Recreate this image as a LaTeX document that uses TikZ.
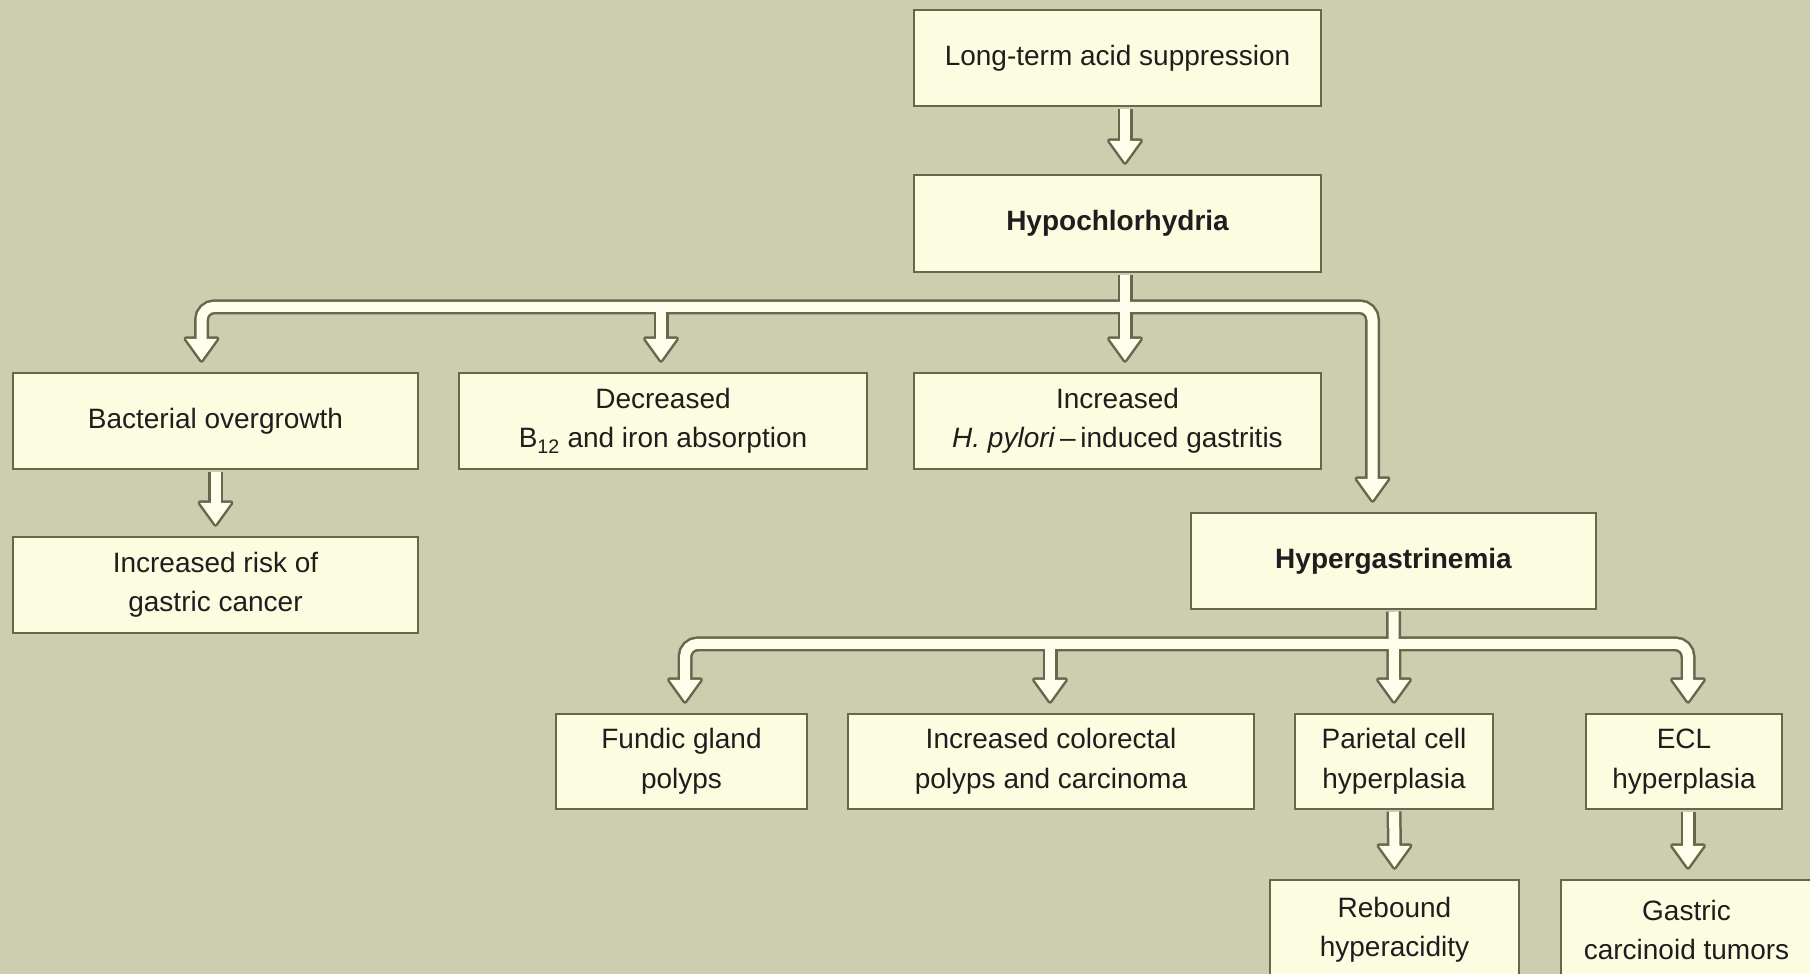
\documentclass[tikz,border=0pt]{standalone}
\usepackage{fontspec}
\setmainfont{Liberation Sans}
\usetikzlibrary{calc}
\definecolor{bg}{HTML}{CDCDAF}
\definecolor{boxfill}{HTML}{FCFCE1}
\definecolor{edge}{HTML}{67674B}
\definecolor{txt}{HTML}{1E1E1E}
\definecolor{arrowfill}{HTML}{FEFEEC}
\begin{document}
\begin{tikzpicture}[x=1pt,y=-1pt,
  box/.style={draw=edge, fill=boxfill, line width=2.5pt, inner sep=0pt, align=center, text=txt, font=\fontsize{28}{39.5}\selectfont},
  boldbox/.style={box, font=\fontsize{28}{39.5}\selectfont\bfseries},
  shaftout/.style={draw=edge, line width=15pt, rounded corners=13pt},
  shaftin/.style={draw=arrowfill, line width=10pt, rounded corners=13pt},
  headout/.pic={\filldraw[draw=edge, fill=edge, line width=5pt, line join=round] (-15.5,-21.5) -- (0,0) -- (15.5,-21.5) -- cycle;},
  headin/.pic={\fill[arrowfill] (-15.5,-21.5) -- (0,0) -- (15.5,-21.5) -- cycle;},
]
\fill[bg] (0,0) rectangle (1810,974);
\useasboundingbox (0,0) rectangle (1810,974);

% boxes
\node[box, minimum width=407pt, minimum height=96pt] (A) at (1117.5,58) {Long-term acid suppression};
\node[boldbox, minimum width=407pt, minimum height=97pt] (B) at (1117.5,223.5) {Hypochlorhydria};
\node[box, minimum width=405pt, minimum height=96pt] (bac) at (215.5,421) {Bacterial overgrowth};
\node[box, minimum width=408pt, minimum height=96pt] (dec) at (663,421) {Decreased\\B\textsubscript{12} and iron absorption};
\node[box, minimum width=407pt, minimum height=96pt] (hp) at (1117.5,421) {Increased\\\textit{H. pylori}\,–\,induced gastritis};
\node[box, minimum width=405pt, minimum height=96pt] (risk) at (215.5,585) {Increased risk of\\gastric cancer};
\node[boldbox, minimum width=405pt, minimum height=96pt] (hyg) at (1393.5,561) {Hypergastrinemia};
\node[box, minimum width=251pt, minimum height=95pt] (fun) at (681.5,761.5) {Fundic gland\\polyps};
\node[box, minimum width=406pt, minimum height=95pt] (col) at (1051,761.5) {Increased colorectal\\polyps and carcinoma};
\node[box, minimum width=198pt, minimum height=95pt] (par) at (1394,761.5) {Parietal cell\\hyperplasia};
\node[box, minimum width=196pt, minimum height=95pt] (ecl) at (1684,761.5) {ECL\\hyperplasia};
\node[box, minimum width=249pt, minimum height=100pt] (reb) at (1394.5,930) {Rebound\\hyperacidity};
\node[box, minimum width=251pt, minimum height=100pt] (gas) at (1686.5,930) {Gastric\\carcinoid tumors};

% connector points
\coordinate (sA) at ([xshift=7.5pt,yshift=-1.25pt]A.south);
\coordinate (sB) at ([xshift=7.5pt,yshift=-1.25pt]B.south);
\coordinate (j1) at ([xshift=7.5pt,yshift=-33.5pt]B.south);
\coordinate (sbac) at ([yshift=-1.25pt]bac.south);
\coordinate (shyg) at ([yshift=-1.25pt]hyg.south);
\coordinate (j2) at ([yshift=-33.5pt]hyg.south);
\coordinate (spar) at ([yshift=-1.25pt]par.south);
\coordinate (secl) at ([xshift=4pt,yshift=-1.25pt]ecl.south);

\coordinate (tB) at ([xshift=7.5pt,yshift=11.5pt]B.north);
\coordinate (tbac) at ([xshift=-14pt,yshift=11.5pt]bac.north);
\coordinate (tdec) at ([xshift=-2pt,yshift=11.5pt]dec.north);
\coordinate (thp) at ([xshift=7.5pt,yshift=11.5pt]hp.north);
\coordinate (thyg) at ([xshift=-21pt,yshift=11.5pt]hyg.north);
\coordinate (trisk) at ([yshift=11.5pt]risk.north);
\coordinate (tfun) at ([xshift=3.5pt,yshift=11.5pt]fun.north);
\coordinate (tcol) at ([xshift=-1pt,yshift=11.5pt]col.north);
\coordinate (tpar) at ([yshift=11.5pt]par.north);
\coordinate (tecl) at ([xshift=4pt,yshift=11.5pt]ecl.north);
\coordinate (treb) at ([yshift=11.5pt]reb.north);
\coordinate (tgas) at ([xshift=1.5pt,yshift=11.5pt]gas.north);

\foreach \t in {tB,tbac,tdec,thp,thyg,trisk,tfun,tcol,tpar,tecl,treb,tgas}
  \coordinate (b\t) at ([yshift=21pt]\t);

% connectors: outline pass, then fill pass
\foreach \s/\h in {shaftout/headout,shaftin/headin}{
  \draw[\s] (sA) -- (btB);
  \draw[\s] (sB) -- (bthp);
  \draw[\s] (btbac) |- (j1) -| (bthyg);
  \draw[\s] (btdec) -- (btdec |- j1);
  \draw[\s] (sbac) -- (btrisk);
  \draw[\s] (shyg) -- (btpar);
  \draw[\s] (btfun) |- (j2) -| (btecl);
  \draw[\s] (btcol) -- (btcol |- j2);
  \draw[\s] (spar) -- (btreb);
  \draw[\s] (secl) -- (btgas);
  \foreach \t in {tB,tbac,tdec,thp,thyg,trisk,tfun,tcol,tpar,tecl,treb,tgas}
    \pic at (\t) {\h};
}
\end{tikzpicture}
\end{document}
